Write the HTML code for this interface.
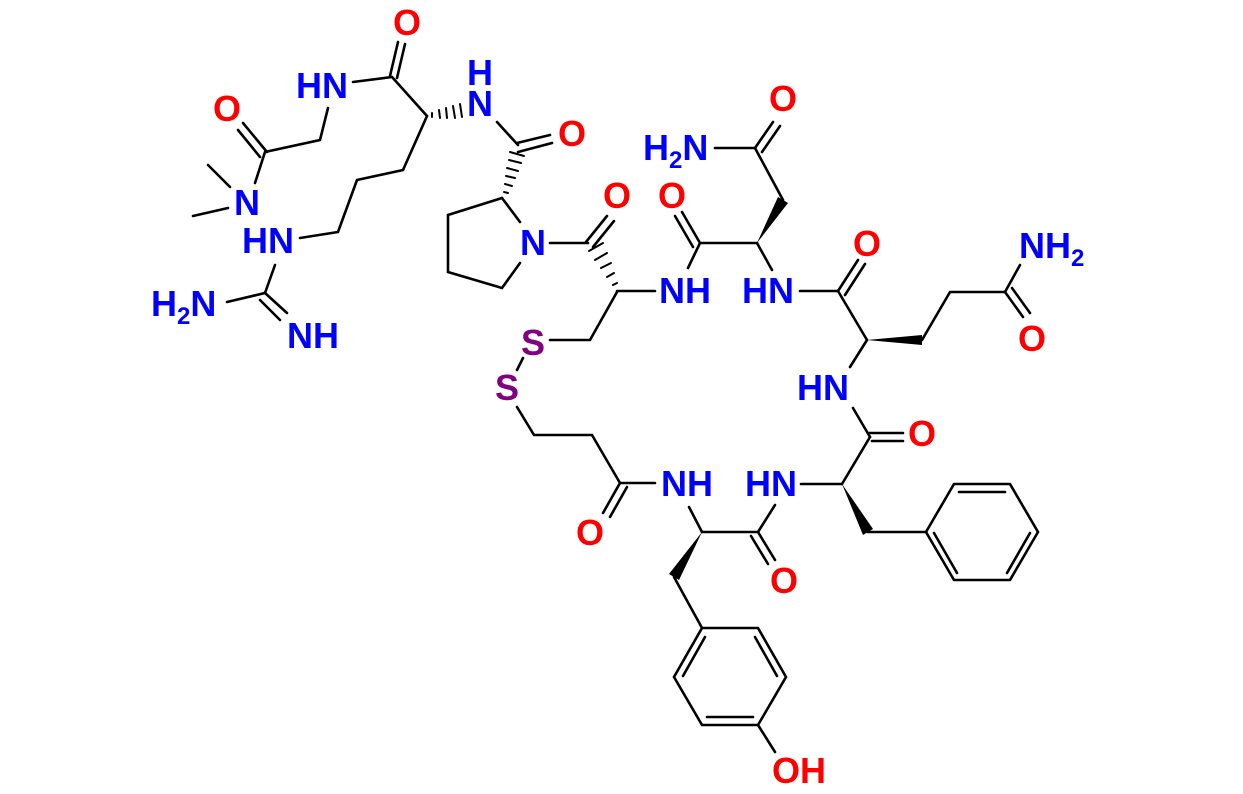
<!DOCTYPE html>
<html><head><meta charset="utf-8"><style>
html,body{margin:0;padding:0;background:#fff;}
svg{display:block;}
text{font-family:"Liberation Sans",Arial,sans-serif;font-weight:bold;font-size:36px;}
.b{fill:#0000ff}.r{fill:#f00}.p{fill:#800080}
</style></head><body>
<svg width="1243" height="794" viewBox="0 0 1243 794" xmlns="http://www.w3.org/2000/svg">
<g stroke="#000" stroke-width="2.6" fill="none" stroke-linecap="round">
<line x1="390" y1="76" x2="398" y2="42"/><line x1="397" y1="78" x2="405" y2="44"/>
<line x1="353" y1="82" x2="392" y2="77"/>
<line x1="392" y1="77" x2="427" y2="116"/>
<line x1="497" y1="122" x2="518" y2="145"/>
<line x1="517" y1="143" x2="550" y2="135"/><line x1="518" y1="152" x2="552" y2="143"/>
<polyline points="427,116 403,170 357,180 338,232 300,238"/>
<line x1="275" y1="265" x2="265" y2="293"/><line x1="265" y1="293" x2="227" y2="302"/>
<line x1="265" y1="293" x2="287" y2="313"/><line x1="260" y1="300" x2="280" y2="320"/>
<polyline points="328,108 320,140 265,152 255,183"/>
<line x1="267" y1="152" x2="243" y2="123"/><line x1="260" y1="157" x2="238" y2="130"/>
<line x1="230" y1="187" x2="208" y2="165"/><line x1="228" y1="208" x2="193" y2="216"/>
<line x1="502" y1="198" x2="520" y2="222"/>
<polyline points="520,263 502,288 448,272 448,215 502,198"/>
<line x1="550" y1="243" x2="588" y2="243"/>
<line x1="586" y1="242" x2="607" y2="216"/><line x1="593" y1="247" x2="614" y2="221"/>
<polyline points="617,292 590,340 550,340"/>
<line x1="523" y1="358" x2="517" y2="370"/>
<line x1="617" y1="291" x2="655" y2="291"/>
<line x1="688" y1="268" x2="700" y2="243"/><line x1="700" y1="243" x2="757" y2="243"/>
<line x1="700" y1="243" x2="682" y2="212"/><line x1="693" y1="247" x2="675" y2="216"/>
<line x1="757" y1="243" x2="772" y2="270"/>
<line x1="783" y1="200" x2="755" y2="148"/><line x1="715" y1="148" x2="755" y2="148"/>
<line x1="755" y1="148" x2="773" y2="122"/><line x1="762" y1="152" x2="780" y2="126"/>
<line x1="800" y1="291" x2="838" y2="291"/>
<line x1="838" y1="291" x2="858" y2="260"/><line x1="845" y1="295" x2="865" y2="264"/>
<line x1="838" y1="291" x2="867" y2="340"/>
<polyline points="922,340 950,292 1005,292 1020,265"/>
<line x1="1005" y1="292" x2="1023" y2="317"/><line x1="1012" y1="288" x2="1030" y2="313"/>
<line x1="867" y1="340" x2="850" y2="367"/>
<line x1="853" y1="408" x2="870" y2="437"/>
<line x1="868" y1="433" x2="903" y2="433"/><line x1="872" y1="441" x2="903" y2="441"/>
<line x1="870" y1="437" x2="842" y2="484"/><line x1="801" y1="484" x2="842" y2="484"/>
<line x1="868" y1="532" x2="926" y2="532"/>
<polygon points="926,532 954,484 1010,484 1038,532 1010,580 954,580"/>
<line x1="959" y1="492" x2="1005" y2="492"/>
<line x1="934" y1="533" x2="957" y2="573"/>
<line x1="1030" y1="533" x2="1007" y2="573"/>
<line x1="775" y1="505" x2="758" y2="532"/><line x1="758" y1="532" x2="702" y2="532"/>
<line x1="758" y1="532" x2="775" y2="560"/><line x1="751" y1="536" x2="768" y2="564"/>
<line x1="702" y1="532" x2="689" y2="507"/>
<line x1="655" y1="483" x2="620" y2="483"/>
<line x1="620" y1="483" x2="603" y2="513"/><line x1="627" y1="487" x2="610" y2="517"/>
<polyline points="620,483 592,435 534,435 517,407"/>
<line x1="674" y1="577" x2="702" y2="628"/>
<polygon points="702,628 758,628 786,677 758,725 702,725 674,677"/>
<line x1="705" y1="637" x2="683" y2="676"/>
<line x1="755" y1="637" x2="777" y2="676"/>
<line x1="707" y1="717" x2="753" y2="717"/>
<line x1="758" y1="725" x2="775" y2="752"/>
<g stroke-width="2">
<line x1="432" y1="113" x2="432" y2="117"/><line x1="439" y1="110" x2="440" y2="118"/><line x1="446" y1="108" x2="447" y2="118"/><line x1="453" y1="106" x2="455" y2="118"/><line x1="460" y1="104" x2="462" y2="117"/>
<line x1="504" y1="192" x2="508" y2="193"/><line x1="505" y1="184" x2="512" y2="186"/><line x1="506" y1="176" x2="515" y2="178"/><line x1="507" y1="168" x2="518" y2="171"/><line x1="509" y1="160" x2="521" y2="163"/><line x1="510" y1="152" x2="524" y2="156"/>
<line x1="613" y1="285" x2="617" y2="283"/><line x1="607" y1="277" x2="614" y2="273"/><line x1="601" y1="268" x2="611" y2="263"/><line x1="595" y1="260" x2="607" y2="253"/><line x1="589" y1="251" x2="603" y2="243"/>
</g>
</g>
<g fill="#000">
<polygon points="757,243 778,197 788,203"/>
<polygon points="867,340 922,335 922,345"/>
<polygon points="842,484 863,535 873,529"/>
<polygon points="702,532 669,574 679,580"/>
</g>
<text class="r" x="407" y="35" text-anchor="middle">O</text>
<text class="b" x="322" y="98" text-anchor="middle">HN</text>
<text class="b" x="480" y="116" text-anchor="middle">N</text>
<text class="b" x="480" y="85" text-anchor="middle">H</text>
<text class="r" x="572" y="146" text-anchor="middle">O</text>
<text class="r" x="227" y="121" text-anchor="middle">O</text>
<text class="b" x="247" y="215" text-anchor="middle">N</text>
<text class="b" x="268" y="253" text-anchor="middle">HN</text>
<text class="b" x="151" y="316">H<tspan font-size="24" dy="8">2</tspan><tspan dy="-8">N</tspan></text>
<text class="b" x="313" y="348" text-anchor="middle">NH</text>
<text class="b" x="533" y="255" text-anchor="middle">N</text>
<text class="r" x="617" y="208" text-anchor="middle">O</text>
<text class="p" x="533" y="355" text-anchor="middle">S</text>
<text class="p" x="507" y="400" text-anchor="middle">S</text>
<text class="b" x="643" y="160">H<tspan font-size="24" dy="8">2</tspan><tspan dy="-8">N</tspan></text>
<text class="r" x="783" y="111" text-anchor="middle">O</text>
<text class="r" x="672" y="208" text-anchor="middle">O</text>
<text class="b" x="685" y="303" text-anchor="middle">NH</text>
<text class="b" x="768" y="303" text-anchor="middle">HN</text>
<text class="r" x="867" y="256" text-anchor="middle">O</text>
<text class="b" x="1019" y="258">NH<tspan font-size="24" dy="8">2</tspan></text>
<text class="r" x="1032" y="351" text-anchor="middle">O</text>
<text class="b" x="823" y="400" text-anchor="middle">HN</text>
<text class="r" x="922" y="446" text-anchor="middle">O</text>
<text class="b" x="687" y="496" text-anchor="middle">NH</text>
<text class="b" x="771" y="496" text-anchor="middle">HN</text>
<text class="r" x="590" y="545" text-anchor="middle">O</text>
<text class="r" x="784" y="593" text-anchor="middle">O</text>
<text class="r" x="799" y="783" text-anchor="middle">OH</text>
</svg>
</body></html>
